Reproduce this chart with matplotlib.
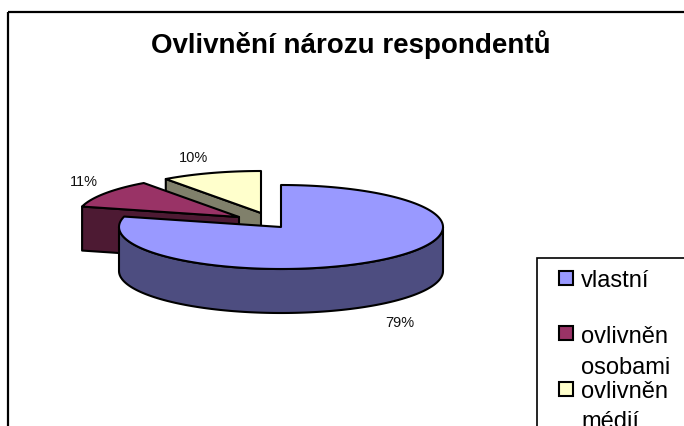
import numpy as np
import matplotlib
matplotlib.use('Agg')
import matplotlib.pyplot as plt
from matplotlib.patches import Polygon, Rectangle

plt.rcParams['font.family'] = ['Liberation Sans', 'DejaVu Sans']

title = 'Ovlivnění nározu respondentů'
categories = ['vlastní', 'ovlivněn\nosobami', 'ovlivněn\nmédií']
values = [79, 11, 10]
pct_labels = ['79%', '11%', '10%']

top_colors = ['#9999ff', '#993366', '#ffffcc']
side_colors = ['#4d4d80', '#4d1a33', '#80806b']

# pixel layout of the exploded pie, centre of each slice top
centres = [(281, 228), (239, 218), (261, 214)]
rx, ry = 162, 42
depth = 44
label_pos = [(400, 323), (84, 182), (193, 158)]

fig = plt.figure(figsize=(6.84, 4.27), dpi=100)
ax = fig.add_axes([0, 0, 1, 1])
ax.set_xlim(0, 684)
ax.set_ylim(427, 0)
ax.axis('off')


def rim(cx, cy, a0, a1):
    t = np.radians(np.linspace(a0, a1, 200))
    return np.column_stack([cx + rx * np.cos(t), cy - ry * np.sin(t)])


# slice angles, clockwise from 12 o'clock
edges = 90 - np.cumsum([0] + values) * 3.6

# back to front: yellow, maroon, blue
for i in [2, 1, 0]:
    cx, cy = centres[i]
    a0, a1 = edges[i], edges[i + 1]
    # flat cut face on the radius that faces the viewer
    if i > 0:
        end = rim(cx, cy, a0, a0)[0]
        face = [(cx, cy), end, (end[0], end[1] + depth), (cx, cy + depth)]
        ax.add_patch(Polygon(face, closed=True, fc=side_colors[i], ec='black', lw=1.5, joinstyle='round'))
    # outer wall, front half only
    lo = max(a1, -180)
    if a0 > -180 and lo < 0:
        wall = rim(cx, cy, min(a0, 0), lo)
        low = wall[::-1] + [0, depth]
        ax.add_patch(Polygon(np.vstack([wall, low]), closed=True, fc=side_colors[i], ec='black', lw=1.5))
    pts = np.vstack([[(cx, cy)], rim(cx, cy, a0, a1)])
    ax.add_patch(Polygon(pts, closed=True, fc=top_colors[i], ec='black', lw=1.5, joinstyle='round'))

for s, (x, y) in zip(pct_labels, label_pos):
    ax.text(x, y, s, fontsize=10.5, ha='center', va='center', color='#111111')

ax.text(351, 53, title, fontsize=20, fontweight='bold', ha='center', va='baseline', color='black')

# chart frame and legend box run off the picture
ax.add_patch(Rectangle((8, 13), 800, 600, fc='none', ec='black', lw=1.6))
ax.add_patch(Rectangle((537, 259), 300, 300, fc='white', ec='black', lw=1.2))

marker_y = [279, 334, 390]
text_y = [(287,), (343, 374), (398, 428)]
for name, color, my, ys in zip(categories, top_colors, marker_y, text_y):
    ax.add_patch(Rectangle((559, my - 7), 14, 14, fc=color, ec='black', lw=1.5))
    for line, y in zip(name.split('\n'), ys):
        ax.text(581, y, line, fontsize=17, ha='left', va='baseline', color='black')

fig.savefig('out.png', dpi=100)
